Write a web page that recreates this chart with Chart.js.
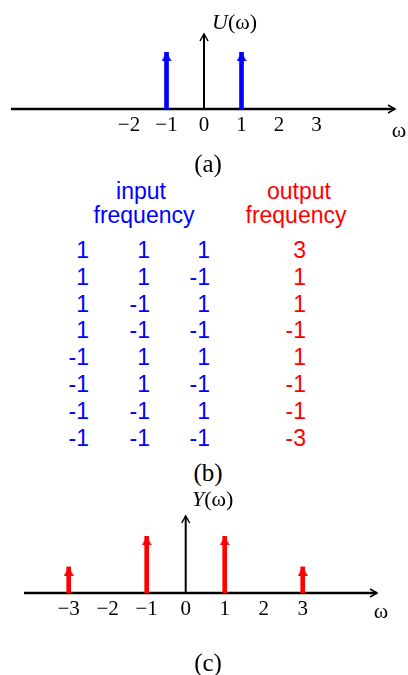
<!DOCTYPE html>
<html>
<head>
<meta charset="utf-8">
<script src="https://cdn.jsdelivr.net/npm/chart.js"></script>
<style>
body { margin:0; width:408px; height:675px; background:#fff; position:relative; overflow:hidden; }
canvas { position:absolute; left:0; }
.lbl { position:absolute; white-space:nowrap; line-height:1; }
.serif { font-family:"Liberation Serif","Times New Roman",serif; font-size:22px; color:#000; }
.cap { font-size:25px; }
.sans { font-family:"Liberation Sans",Arial,sans-serif; font-size:23px; line-height:23px; }
.mid { transform:translateX(-50%); }
.blue { color:#0000ff; }
.red { color:#ff0000; }
</style>
</head>
<body>
<canvas id="chartA" width="408" height="139" style="top:0"></canvas>
<canvas id="chartC" width="408" height="123" style="top:500px"></canvas>

<div class="lbl serif" style="left:212px;top:11px"><i>U</i>(ω)</div>
<div class="lbl serif mid" style="left:399px;top:119px">ω</div>
<div class="lbl serif cap mid" style="left:208px;top:151px">(a)</div>

<div class="lbl sans blue mid" style="left:141px;top:180px">input</div>
<div class="lbl sans blue mid" style="left:144px;top:204px">frequency</div>
<div class="lbl sans red mid" style="left:299px;top:180px">output</div>
<div class="lbl sans red mid" style="left:296px;top:204px">frequency</div>
<div id="table"></div>
<div class="lbl serif cap mid" style="left:208px;top:460px">(b)</div>

<div class="lbl serif" style="left:192px;top:488px"><i>Y</i>(ω)</div>
<div class="lbl serif mid" style="left:381px;top:600px">ω</div>
<div class="lbl serif cap mid" style="left:208px;top:650px">(c)</div>

<script>
// spectrum of the input (a)
const freqA = [-1, 1];
const ampA = [1, 1];
const ticksA = [-2, -1, 0, 1, 2, 3];

// spectrum of the output (c)
const freqC = [-3, -1, 1, 3];
const ampC = [0.46, 1, 1, 0.46];
const ticksC = [-3, -2, -1, 0, 1, 2, 3];

// table (b)
const in1 = [1, 1, 1, 1, -1, -1, -1, -1];
const in2 = [1, 1, -1, -1, 1, 1, -1, -1];
const in3 = [1, -1, 1, -1, 1, -1, 1, -1];
const outF = [3, 1, 1, -1, 1, -1, -1, -3];

// rows of the table, right aligned in 4 columns
const table = document.getElementById('table');
const colRight = [89, 150, 210, 306];
for (let r = 0; r < in1.length; r++) {
    const row = [in1[r], in2[r], in3[r], outF[r]];
    row.forEach((v, c) => {
        const d = document.createElement('div');
        d.className = 'lbl sans ' + (c < 3 ? 'blue' : 'red');
        d.style.right = (408 - colRight[c]) + 'px';
        d.style.top = (238.8 + r * 26.86) + 'px';
        d.textContent = String(v);
        table.appendChild(d);
    });
}

// filled arrow head, tip in the middle of the image
function arrowHead(color) {
    const c = document.createElement('canvas');
    c.width = 10;
    c.height = 18;
    const g = c.getContext('2d');
    g.fillStyle = color;
    g.beginPath();
    g.moveTo(5, 9);
    g.lineTo(10, 18);
    g.lineTo(0, 18);
    g.closePath();
    g.fill();
    return c;
}

// the two axes with open arrows
const axesArrows = {
    id: 'axesArrows',
    beforeDatasetsDraw(chart) {
        const {ctx, chartArea, scales} = chart;
        const y0 = scales.y.getPixelForValue(0);
        const x0 = scales.x.getPixelForValue(0);
        ctx.save();
        ctx.strokeStyle = '#000';
        ctx.lineWidth = 2.4;
        ctx.beginPath();
        ctx.moveTo(chartArea.left, y0);
        ctx.lineTo(chartArea.right, y0);
        ctx.stroke();
        ctx.lineWidth = 2;
        ctx.beginPath();
        ctx.moveTo(x0, y0);
        ctx.lineTo(x0, chartArea.top);
        ctx.stroke();
        ctx.lineWidth = 1.5;
        ctx.beginPath();
        ctx.moveTo(chartArea.right - 7, y0 - 4);
        ctx.lineTo(chartArea.right, y0);
        ctx.lineTo(chartArea.right - 7, y0 + 4);
        ctx.moveTo(x0 - 4, chartArea.top + 7);
        ctx.lineTo(x0, chartArea.top);
        ctx.lineTo(x0 + 4, chartArea.top + 7);
        ctx.stroke();
        ctx.restore();
    }
};

function stemChart(id, freqs, amps, color, tickVals, yMax, xMin, xMax, pad) {
    const pts = freqs.map((f, i) => ({x: f, y: amps[i]}));
    return new Chart(document.getElementById(id), {
        type: 'bar',
        data: {
            datasets: [
                { type: 'bar', data: pts, backgroundColor: color, borderWidth: 0, barThickness: 4, order: 2 },
                { type: 'line', data: pts, showLine: false, pointStyle: arrowHead(color), pointRadius: 5, order: 1 }
            ]
        },
        options: {
            responsive: false,
            animation: false,
            events: [],
            layout: { padding: pad },
            plugins: { legend: { display: false }, tooltip: { enabled: false } },
            scales: {
                x: {
                    type: 'linear', min: xMin, max: xMax, offset: false,
                    grid: { display: false, drawTicks: false },
                    border: { display: false },
                    afterBuildTicks: s => { s.ticks = tickVals.map(v => ({value: v})); },
                    afterFit: s => { s.height = 30; },
                    ticks: {
                        padding: 4, color: '#000', autoSkip: false, maxRotation: 0,
                        font: { family: 'Liberation Serif', size: 21 },
                        callback: v => v < 0 ? '\u2212' + (-v) : String(v)
                    }
                },
                y: { display: false, min: 0, max: yMax }
            }
        },
        plugins: [axesArrows]
    });
}

stemChart('chartA', freqA, ampA, '#0000ff', ticksA, 1.323, -5.147, 5.093,
    { top: 34, left: 11, right: 13, bottom: 0 });
stemChart('chartC', freqC, ampC, '#ff0000', ticksC, 1.358, -4.146, 4.905,
    { top: 16, left: 24, right: 31, bottom: 0 });
</script>
</body>
</html>
